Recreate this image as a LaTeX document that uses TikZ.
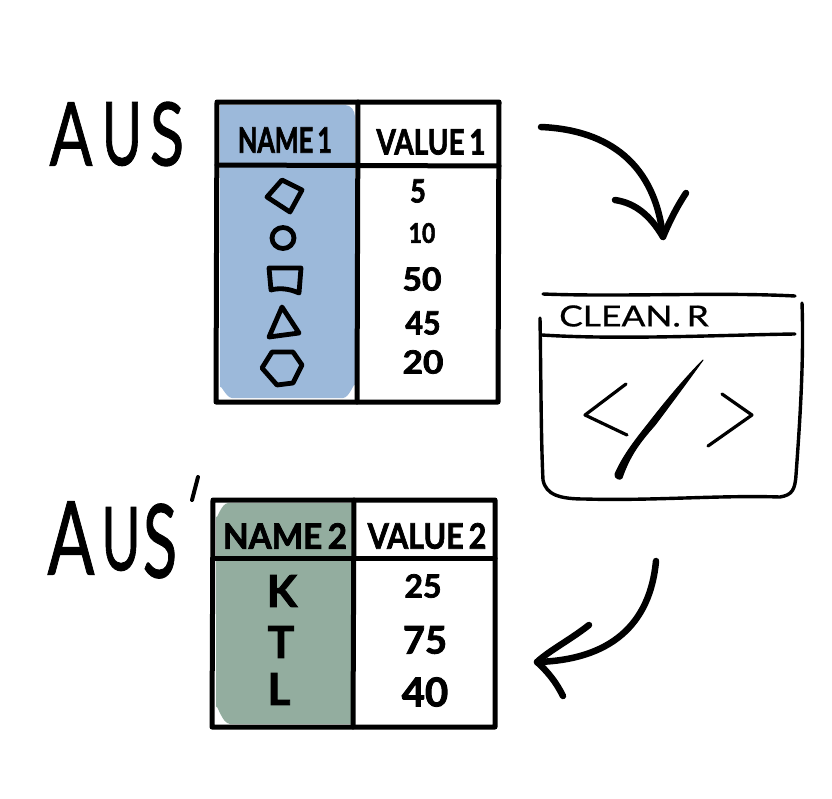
\documentclass[tikz,border=0pt]{standalone}
\usepackage{fontspec}
\setmainfont{Lato}[BoldFeatures={FakeBold=2.2}]
\newfontfamily\titlefont{Lato}[FakeBold=1.1]
\newfontfamily\cleanfont{Lato}[FakeBold=0.7]
\definecolor{tblue}{HTML}{9CB9DA}
\definecolor{tgreen}{HTML}{93AD9F}
\newcommand{\hs}[2]{\scalebox{#1}[1]{#2}}
\tikzset{
  ink/.style={line width=#1,draw=black,line cap=round,line join=round},
  ink/.default=5pt,
  title/.style={inner sep=0pt,font=\titlefont\fontsize{88}{88}\selectfont},
  bigtitle/.style={inner sep=0pt,font=\titlefont\fontsize{102}{102}\selectfont},
  head/.style={inner sep=0pt,font=\fontsize{35}{35}\selectfont\bfseries},
  val/.style={inner sep=0pt,font=\fontsize{32}{32}\selectfont\bfseries},
  small/.style={inner sep=0pt,font=\fontsize{27}{27}\selectfont\bfseries},
  letter/.style={inner sep=0pt,font=\fontsize{44}{44}\selectfont\bfseries},
}
\begin{document}
\begin{tikzpicture}[x=1pt,y=-1pt]
\useasboundingbox (0,0) rectangle (832,798);
% titles
\node[title] (t1a) at (71,134) {\hs{0.72}{A}};
\node[title] (t1u) at (122,134) {\hs{0.62}{U}};
\node[title] (t1s) at (167,134) {\hs{0.72}{S}};
\node[bigtitle] (t2a) at (71,538) {\hs{0.68}{A}};
\node[title] (t2u) at (121,539) {\hs{0.6}{U}};
\node[bigtitle] (t2s) at (160,541) {\hs{0.62}{S}};
\draw[ink=4pt] (198,477) -- (192,500);
% table 1
\fill[tblue] (220,105) -- (345,105) to[out=0,in=90] (355,117) -- (355,386) to[out=90,in=0] (343,398) -- (232,398) to[out=180,in=90] (220,388) -- cycle;
\draw[ink] (217,102) -- (499,102) -- (498,402) -- (216,402) -- cycle;
\draw[ink] (358,102) -- (357,402);
\draw[ink] (217,165) -- (499,166);
\node[head] (n1) at (285,140) {\hs{0.72}{NAME\,1}};
\node[head] (v1) at (431,142) {\hs{0.8}{VALUE\,1}};
\node[val] (a1) at (418,191) {\hs{0.85}{5}};
\node[small] (a2) at (422,233) {\hs{0.85}{10}};
\node[val] (a3) at (422,279) {\hs{1.05}{50}};
\node[val] (a4) at (423,323) {\hs{0.95}{45}};
\node[val] (a5) at (423,362) {\hs{1.1}{20}};
\draw[ink=4.8pt] (282,180) -- (302,190) -- (290,212) -- (267,197) -- cycle;
\draw[ink=4.8pt] (283,238) ellipse [x radius=11,y radius=10.5];
\draw[ink=4.8pt] (269,268) -- (301,268) -- (299,293) .. controls (288,288) and (278,288) .. (271,290) -- cycle;
\draw[ink=4.8pt] (282,307) -- (299,333) -- (269,337) -- cycle;
\draw[ink=4.8pt] (272,352) -- (293,352) -- (302,365) -- (293,383) -- (277,385) -- (262,368) -- cycle;
% window
\draw[ink=3.4pt] (543,294) .. controls (620,297) and (720,292) .. (795,296);
\draw[ink=3.4pt] (540,318) .. controls (541,380) and (541,440) .. (543,480) .. controls (546,495) and (560,499) .. (585,499) .. controls (650,501) and (720,495) .. (780,497) .. controls (792,495) and (795,490) .. (796,475) .. controls (800,420) and (804,360) .. (802,303);
\draw[ink=3.4pt] (542,335) .. controls (620,340) and (720,335) .. (795,334);
\node[inner sep=0pt,font=\cleanfont\fontsize{29}{29}\selectfont] (clean) at (634,316) {\hs{1.22}{CLEAN.\,R}};
\draw[ink=3.2pt] (626,384) -- (585,415) -- (627,435);
\draw[ink=3.2pt] (722,394) -- (752,415) -- (708,446);
\fill[line join=round,draw=black,line width=1pt] (703,360) .. controls (685,385) and (670,405) .. (655,425) .. controls (640,442) and (630,455) .. (622,478) .. controls (620,481) and (614,478) .. (615,474) .. controls (622,458) and (632,444) .. (648,424) .. controls (665,402) and (685,378) .. (703,360) -- cycle;
% table 2
\fill[tgreen] (228,503) -- (352,503) -- (352,724) -- (230,724) to[out=180,in=90] (216,708) -- (216,516) to[out=-90,in=180] cycle;
\draw[ink] (213,500) -- (495,500) -- (495,727) -- (212,727) -- cycle;
\draw[ink] (354,500) -- (353,727);
\draw[ink] (213,558) -- (495,558);
\node[head] (n2) at (285,536) {\hs{0.95}{NAME\,2}};
\node[head] (v2) at (427,536) {\hs{0.87}{VALUE\,2}};
\node[letter] (k) at (282,591) {K};
\node[letter] (tt) at (281,642) {T};
\node[letter] (l) at (279,689) {L};
\node[val] (b1) at (423,586) {\hs{1.0}{25}};
\node[val,font=\fontsize{38}{38}\selectfont\bfseries] (b2) at (425,640) {75};
\node[val,font=\fontsize{40}{40}\selectfont\bfseries] (b3) at (425,692) {40};
% arrows
\coordinate (ar1s) at (541,127);
\coordinate (ar1e) at (663,237);
\coordinate (ar1l) at (615,200);
\coordinate (ar1r) at (686,193);
\draw[ink=6.5pt] (ar1s) .. controls (610,130) and (655,165) .. (ar1e);
\draw[ink=6.5pt] (ar1l) .. controls (635,203) and (650,215) .. (ar1e) .. controls (670,220) and (678,205) .. (ar1r);
\coordinate (ar2s) at (656,561);
\coordinate (ar2e) at (537,662);
\coordinate (ar2l) at (589,625);
\coordinate (ar2r) at (563,696);
\draw[ink=6.5pt] (ar2s) .. controls (650,625) and (610,660) .. (ar2e);
\draw[ink=6.5pt] (ar2l) .. controls (570,640) and (550,650) .. (ar2e) .. controls (548,672) and (556,682) .. (ar2r);
\end{tikzpicture}
\end{document}
